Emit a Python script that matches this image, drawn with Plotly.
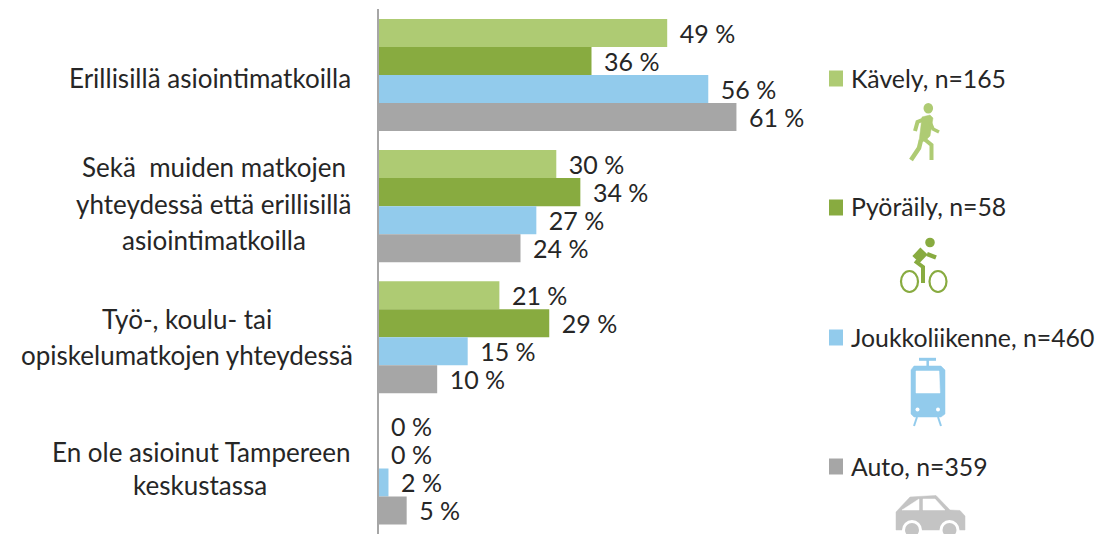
#!/usr/bin/env python3
import plotly.graph_objects as go

# Data (bar lengths, labels show them rounded)
categories = [
    "Erillisillä asiointimatkoilla",
    "Sekä muiden matkojen yhteydessä että erillisillä asiointimatkoilla",
    "Työ-, koulu- tai opiskelumatkojen yhteydessä",
    "En ole asioinut Tampereen keskustassa",
]
walking = [49.2, 30.3, 20.6, 0]
cycling = [36.3, 34.4, 29.1, 0]
transit = [56.2, 26.9, 15.2, 1.7]
car = [61, 24.2, 10, 4.8]

series_names = ["Kävely, n=165", "Pyöräily, n=58", "Joukkoliikenne, n=460", "Auto, n=359"]
series_values = [walking, cycling, transit, car]
colors = ["#AECB73", "#88AB40", "#92CBEC", "#A6A6A6"]
CAR_ICON = "#C4C4C4"

# Category labels are drawn by hand, the original has wide centred lines
label_lines = [
    ("Erillisillä asiointimatkoilla", 209.5, 78),
    ("Sekä  muiden matkojen", 214, 167),
    ("yhteydessä että erillisillä", 213.5, 204),
    ("asiointimatkoilla", 214, 240),
    ("Työ-, koulu- tai", 187, 319),
    ("opiskelumatkojen yhteydessä", 187, 355),
    ("En ole asioinut Tampereen", 201, 452),
    ("keskustassa", 200, 485),
]
legend_rows = [78, 207, 337, 466]

W, H = 1102, 534
FONT = "Lato, 'Open Sans', sans-serif"
TEXT = "#262626"
FONT_SIZE = 25
LABEL_SIZE = 26
LEGEND_SIZE = 24.8


def px(x):
    return x / W


def py(y):
    return 1 - y / H


def path_from(points, close=False):
    """SVG path in paper coordinates from pixel points."""
    d = "M " + " L ".join(f"{px(x):.5f} {py(y):.5f}" for x, y in points)
    return d + (" Z" if close else "")


def line_shape(points, color, width):
    return dict(type="path", xref="paper", yref="paper", path=path_from(points),
                line=dict(color=color, width=width), layer="above")


def fill_shape(points, color):
    return dict(type="path", xref="paper", yref="paper", path=path_from(points, True),
                fillcolor=color, line=dict(color=color, width=0.5), layer="above")


def ellipse(cx, cy, rx, ry, fill=None, line=None, width=0):
    return dict(type="circle", xref="paper", yref="paper",
                x0=px(cx - rx), x1=px(cx + rx), y0=py(cy + ry), y1=py(cy - ry),
                fillcolor=fill if fill else "rgba(0,0,0,0)",
                line=dict(color=line if line else "rgba(0,0,0,0)", width=width),
                layer="above")


def rect(x0, y0, x1, y1, color):
    return dict(type="rect", xref="paper", yref="paper",
                x0=px(x0), x1=px(x1), y0=py(y1), y1=py(y0),
                fillcolor=color, line=dict(width=0), layer="above")


def walker_icon(c):
    return [
        ellipse(928.3, 108.3, 4.8, 5.3, fill=c),
        line_shape([(915, 131), (917.5, 122), (927, 118)], c, 4),
        fill_shape([(922, 117), (930, 115), (933, 118), (930, 136), (925, 141), (919, 142)], c),
        line_shape([(930, 122), (933, 129), (939, 132)], c, 3.5),
        line_shape([(923, 138), (931.5, 145), (931.5, 160)], c, 4),
        line_shape([(921, 140), (919, 148), (911, 160)], c, 4.5),
    ]


def cyclist_icon(c):
    return [
        ellipse(930, 242.5, 4.8, 4.8, fill=c),
        ellipse(909.5, 281.5, 8.5, 10.5, line=c, width=2.2),
        ellipse(938, 281.5, 8.5, 10.5, line=c, width=2.2),
        line_shape([(916, 259.5), (924, 251)], c, 10),
        line_shape([(927, 254), (936, 257.5)], c, 4.5),
        line_shape([(915, 261), (923, 267), (923, 283)], c, 4),
    ]


def tram_icon(c):
    return [
        line_shape([(919, 359.3), (936, 359.3)], c, 3),
        line_shape([(927.7, 359), (927.7, 367)], c, 2.5),
        fill_shape([(914, 366), (941, 366), (945, 370), (945, 414), (941, 417),
                    (914, 417), (911, 414), (911, 370)], c),
        fill_shape([(916, 371), (939, 371), (940, 393), (916, 393)], "white"),
        ellipse(917.5, 409.5, 2, 2, fill="white"),
        ellipse(938, 409.5, 2, 2, fill="white"),
        line_shape([(917, 417), (914, 426)], c, 2),
        line_shape([(938, 417), (941, 426)], c, 2),
    ]


def car_icon(c):
    return [
        fill_shape([(896, 530), (896, 512), (910, 497), (936, 495.5), (950, 510),
                    (960, 510.5), (965, 516), (965, 530)], c),
        fill_shape([(902, 510), (919, 499), (919, 510)], "white"),
        fill_shape([(923, 499), (935, 499), (945, 510), (923, 510)], "white"),
        ellipse(912, 530, 10, 10, fill="white"),
        ellipse(949.5, 530, 10, 10, fill="white"),
        ellipse(912, 530, 7, 7, fill=c),
        ellipse(949.5, 530, 7, 7, fill=c),
    ]


fig = go.Figure()

for name, values, color in zip(series_names, series_values, colors):
    fig.add_trace(go.Bar(
        name=name,
        y=categories,
        x=values,
        orientation="h",
        marker=dict(color=color, line=dict(width=0)),
        text=[f"\u00a0\u2009{v:.0f} %" for v in values],
        textposition="outside",
        constraintext="none",
        cliponaxis=False,
        textfont=dict(family=FONT, size=FONT_SIZE, color=TEXT),
        showlegend=False,
    ))

annotations = [
    dict(text=text, x=px(x), y=py(y), xref="paper", yref="paper", xanchor="center",
         yanchor="middle", showarrow=False,
         font=dict(family=FONT, size=LABEL_SIZE, color=TEXT))
    for text, x, y in label_lines
]

shapes = []
for name, row, color in zip(series_names, legend_rows, colors):
    shapes.append(rect(829, row - 7.5, 843, row + 8.5, color))
    annotations.append(dict(text=name, x=px(849), y=py(row), xref="paper", yref="paper",
                            xanchor="left", yanchor="middle", showarrow=False,
                            font=dict(family=FONT, size=LEGEND_SIZE, color=TEXT)))

shapes += walker_icon(colors[0]) + cyclist_icon(colors[1]) + tram_icon(colors[2]) + car_icon(CAR_ICON)

fig.update_layout(
    width=W,
    height=H,
    margin=dict(l=0, r=0, t=0, b=0),
    paper_bgcolor="white",
    plot_bgcolor="white",
    barmode="group",
    bargap=0.146,
    bargroupgap=0,
    font=dict(family=FONT, size=FONT_SIZE, color=TEXT),
    annotations=annotations,
    shapes=shapes,
    xaxis=dict(domain=[px(378.5), 1], range=[0, 123.3], visible=False),
    yaxis=dict(domain=[0, 1 - 9.4 / H], autorange="reversed", showticklabels=False,
               ticks="", showgrid=False, zeroline=False, showline=True,
               linecolor="#A6A6A6", linewidth=2),
)

# drop the default page margin and Lato's "ti" ligature
fig.write_html(
    "out.html",
    config=dict(displayModeBar=False),
    post_script="document.body.style.margin='0';document.body.style.fontVariantLigatures='none';",
)
